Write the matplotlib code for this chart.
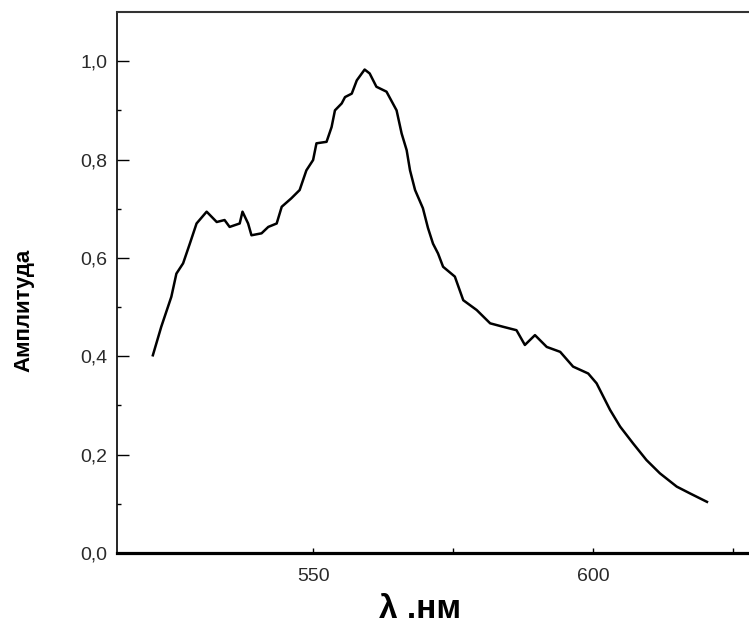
import numpy as np
import matplotlib
matplotlib.use("Agg")
import matplotlib.pyplot as plt

# spectrum (wavelength in nm, amplitude)
wavelength = [521.4, 522.9, 524.7, 525.6, 526.8, 528.0, 529.2, 531.0, 532.8, 534.2,
              535.1, 536.9, 537.4, 538.4, 539.0, 540.8, 542.0, 543.5, 544.4, 546.1,
              547.6, 548.8, 550.0, 550.6, 552.4, 553.3, 553.9, 555.1, 555.7, 556.9,
              557.8, 559.2, 560.1, 561.3, 563.1, 564.9, 565.8, 566.7, 567.3, 568.2,
              569.6, 570.5, 571.4, 572.3, 573.2, 575.3, 576.8, 579.2, 581.6, 583.9,
              586.3, 587.8, 589.6, 591.7, 594.1, 596.4, 599.1, 600.6, 603.0, 604.8,
              607.1, 609.5, 611.9, 614.9, 617.3, 620.3]
amplitude = [0.402, 0.460, 0.521, 0.568, 0.589, 0.629, 0.670, 0.694, 0.673, 0.677,
             0.663, 0.670, 0.694, 0.670, 0.646, 0.650, 0.663, 0.670, 0.704, 0.721,
             0.738, 0.778, 0.799, 0.833, 0.836, 0.866, 0.900, 0.914, 0.927, 0.934,
             0.961, 0.983, 0.975, 0.948, 0.938, 0.900, 0.853, 0.819, 0.778, 0.738,
             0.701, 0.661, 0.629, 0.609, 0.582, 0.562, 0.514, 0.494, 0.467, 0.460,
             0.453, 0.423, 0.443, 0.419, 0.409, 0.379, 0.365, 0.345, 0.291, 0.257,
             0.223, 0.189, 0.162, 0.135, 0.121, 0.104]

y_ticks = [0.0, 0.2, 0.4, 0.6, 0.8, 1.0]
y_tick_labels = ["0,0", "0,2", "0,4", "0,6", "0,8", "1,0"]
x_ticks = [550, 600]
x_tick_labels = ["550", "600"]

plt.rcParams['font.family'] = ['Liberation Sans', 'DejaVu Sans']

fig = plt.figure(figsize=(7.49, 6.31), dpi=100)
ax = fig.add_axes([0.1562, 0.1236, 0.8438, 0.8574])

ax.plot(wavelength, amplitude, color="black", linewidth=1.8)

ax.set_xlim(515, 627.8)
ax.set_ylim(0, 1.1)

ax.set_yticks(y_ticks)
ax.set_yticklabels(y_tick_labels)
ax.set_yticks(np.arange(0.1, 1.1, 0.2), minor=True)
ax.set_xticks(x_ticks)
ax.set_xticklabels(x_tick_labels)
ax.set_xticks([575, 625], minor=True)

ax.tick_params(axis="y", which="major", direction="in", length=8.5, width=1.0, pad=7,
               labelsize=14, labelcolor="#2a2a2a")
ax.tick_params(axis="y", which="minor", direction="in", length=3, width=1.0)
ax.tick_params(axis="x", which="both", direction="in", length=3.5, width=1.0, pad=11,
               labelsize=14, labelcolor="#2a2a2a")

ax.spines["right"].set_visible(False)
ax.spines["bottom"].set_linewidth(2.3)
ax.spines["left"].set_linewidth(1.2)
ax.spines["top"].set_linewidth(1.5)
ax.spines["top"].set_color("#333333")

fig.text(24 / 749, 1 - 310 / 631, "Амплитуда", rotation=90, ha="center", va="center",
         fontsize=16, fontweight="bold")
fig.text(420 / 749, 1 - 610 / 631, "λ .нм", ha="center", va="center",
         fontsize=24, fontweight="bold")

fig.savefig("out.png", dpi=100)
